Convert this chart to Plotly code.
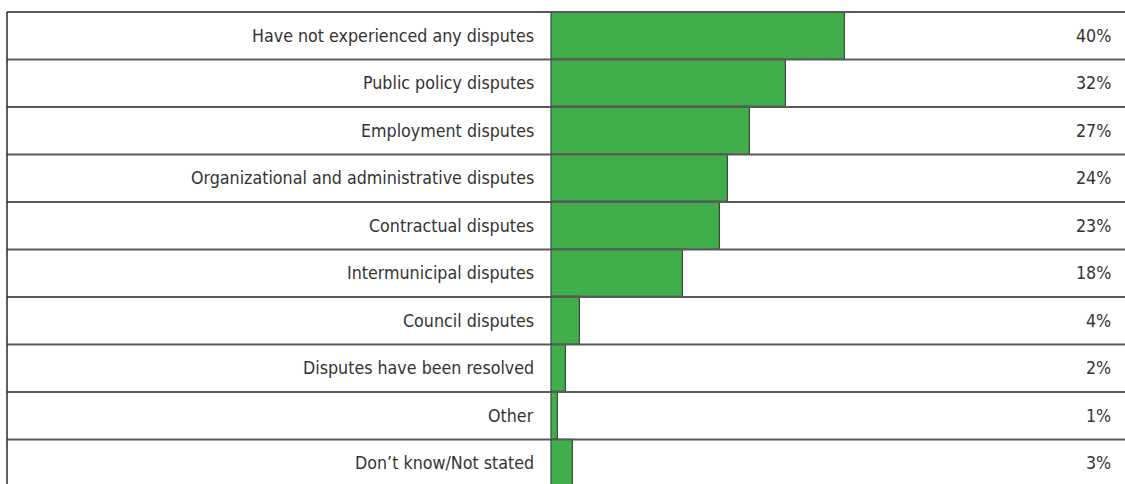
import plotly.graph_objects as go

# Survey answers, top row first
categories = [
    "Have not experienced any disputes",
    "Public policy disputes",
    "Employment disputes",
    "Organizational and administrative disputes",
    "Contractual disputes",
    "Intermunicipal disputes",
    "Council disputes",
    "Disputes have been resolved",
    "Other",
    "Don\u2019t know/Not stated",
]
shares = [40, 32, 27, 24, 23, 18, 4, 2, 1, 3]
share_labels = [f"{v}%" for v in shares]

W, H = 1125, 484
TOP = 12            # top edge of the table
ROW_H = 47.5        # height of one table row
TABLE_LEFT = 7      # left border of the table
BAR_LEFT = 551      # where the bar column begins
LINE = "#5a5a5a"
GREEN = "#40ae4b"
TEXT = "#333333"
FONT = "DejaVu Sans Condensed, Liberation Sans Narrow, Liberation Sans, sans-serif"
FONT_SIZE = 17.7

n = len(categories)
rows = list(range(n))
plot_h = H - TOP
y_bottom = -0.5 + plot_h / ROW_H

fig = go.Figure()
fig.add_trace(go.Bar(
    x=shares,
    y=rows,
    orientation="h",
    width=1.0,
    marker=dict(color=GREEN, line=dict(color="#3c4a3c", width=1.2)),
    hoverinfo="skip",
))

shapes = []
# horizontal row separators
for k in range(n + 1):
    shapes.append(dict(
        type="line", xref="paper", yref="paper",
        x0=TABLE_LEFT / W, x1=1,
        y0=1 - k * ROW_H / plot_h, y1=1 - k * ROW_H / plot_h,
        line=dict(color=LINE, width=2),
    ))
# left border of the table
shapes.append(dict(
    type="line", xref="paper", yref="paper",
    x0=TABLE_LEFT / W, x1=TABLE_LEFT / W, y0=0, y1=1,
    line=dict(color="#2a2a2a", width=1.5),
))
# divider between label column and bar column
shapes.append(dict(
    type="line", xref="paper", yref="paper",
    x0=BAR_LEFT / W, x1=BAR_LEFT / W, y0=0, y1=1,
    line=dict(color="#3c4a3c", width=1.2),
))

annotations = []
for i, (cat, lab) in enumerate(zip(categories, share_labels)):
    annotations.append(dict(
        xref="paper", yref="y", x=536 / W, y=i,
        text=cat, showarrow=False, xanchor="right", yanchor="middle",
        font=dict(family=FONT, size=FONT_SIZE, color=TEXT),
    ))
    annotations.append(dict(
        xref="paper", yref="y", x=1113 / W, y=i,
        text=lab, showarrow=False, xanchor="right", yanchor="middle",
        font=dict(family=FONT, size=FONT_SIZE, color=TEXT),
    ))

fig.update_layout(
    width=W, height=H,
    margin=dict(l=0, r=0, t=TOP, b=0),
    paper_bgcolor="white",
    plot_bgcolor="rgba(0,0,0,0)",
    showlegend=False,
    bargap=0,
    xaxis=dict(domain=[BAR_LEFT / W, 1], range=[0, 78], visible=False, fixedrange=True),
    yaxis=dict(range=[y_bottom, -0.5], visible=False, fixedrange=True),
    shapes=shapes,
    annotations=annotations,
)

fig.write_html("out.html")
